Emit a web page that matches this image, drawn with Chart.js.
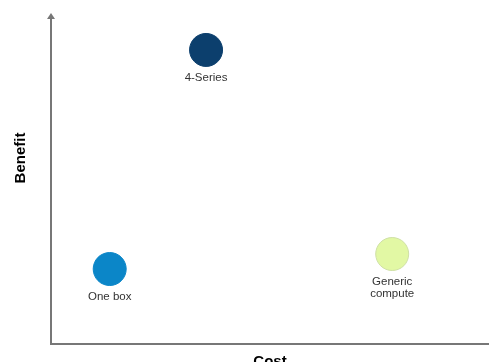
<!DOCTYPE html>
<html lang="en">
<head>
  <meta charset="UTF-8">
  <title>Cost vs Benefit</title>
  <script src="https://cdn.jsdelivr.net/npm/chart.js"></script>
  <style>
    html, body { margin: 0; padding: 0; background: #fff; overflow: hidden; }
    #wrap { width: 489px; height: 362px; overflow: hidden; }
  </style>
</head>
<body>
  <div id="wrap">
    <canvas id="matrix" width="489" height="375"></canvas>
  </div>
  <script>
    // options placed on a cost / benefit plane (0-10 each)
    const names = [['4-Series'], ['One box'], ['Generic', 'compute']];
    const cost = [3.54, 1.34, 7.79];
    const benefit = [9.02, 2.30, 2.76];
    const colors = ['#0c3f6d', '#0b86c8', '#e2f8a4'];
    const edges = ['#0c3f6d', '#0b86c8', '#cfe0a6'];

    const axisColor = '#777';
    const fontFamily = '"Liberation Sans", Arial, sans-serif';

    // arrow on the y axis, rotated y title and the point captions
    const decorations = {
      id: 'decorations',
      afterDraw(chart) {
        const c = chart.ctx;
        const area = chart.chartArea;
        const yScale = chart.scales.y;
        c.save();
        c.fillStyle = axisColor;
        c.beginPath();
        c.moveTo(yScale.right, area.top - 5);
        c.lineTo(yScale.right - 4, area.top + 1);
        c.lineTo(yScale.right + 4, area.top + 1);
        c.closePath();
        c.fill();

        c.fillStyle = '#000';
        c.font = 'bold 15px ' + fontFamily;
        c.textAlign = 'center';
        c.textBaseline = 'middle';
        c.translate(20.7, 158);
        c.rotate(-Math.PI / 2);
        c.fillText('Benefit', 0, 0);
        c.restore();

        c.save();
        c.fillStyle = '#333';
        c.font = '11.5px ' + fontFamily;
        c.textAlign = 'center';
        c.textBaseline = 'middle';
        chart.getDatasetMeta(0).data.forEach((pt, i) => {
          names[i].forEach((line, j) => {
            c.fillText(line, pt.x, pt.y + 28 + j * 12);
          });
        });
        c.restore();
      }
    };

    new Chart(document.getElementById('matrix'), {
      type: 'scatter',
      data: {
        datasets: [{
          data: cost.map((x, i) => ({ x: x, y: benefit[i] })),
          backgroundColor: colors,
          borderColor: edges,
          borderWidth: 1,
          pointRadius: 16.5,
          pointHoverRadius: 16.5
        }]
      },
      options: {
        responsive: false,
        animation: false,
        clip: false,
        layout: { autoPadding: false, padding: { top: 18, right: 0, left: 0, bottom: 0 } },
        plugins: { legend: { display: false }, tooltip: { enabled: false } },
        scales: {
          x: {
            min: 0, max: 10,
            grid: { display: false },
            border: { color: axisColor, width: 2 },
            ticks: { display: false },
            title: {
              display: true, text: 'Cost', color: '#000',
              font: { family: fontFamily, size: 15, weight: 'bold' },
              padding: { top: 0, bottom: 4 }
            },
            afterFit(s) { s.height = 31; }
          },
          y: {
            min: 0, max: 10,
            grid: { display: false },
            border: { color: axisColor, width: 2 },
            ticks: { display: false },
            afterFit(s) { s.width = 51; }
          }
        }
      },
      plugins: [decorations]
    });
  </script>
</body>
</html>
